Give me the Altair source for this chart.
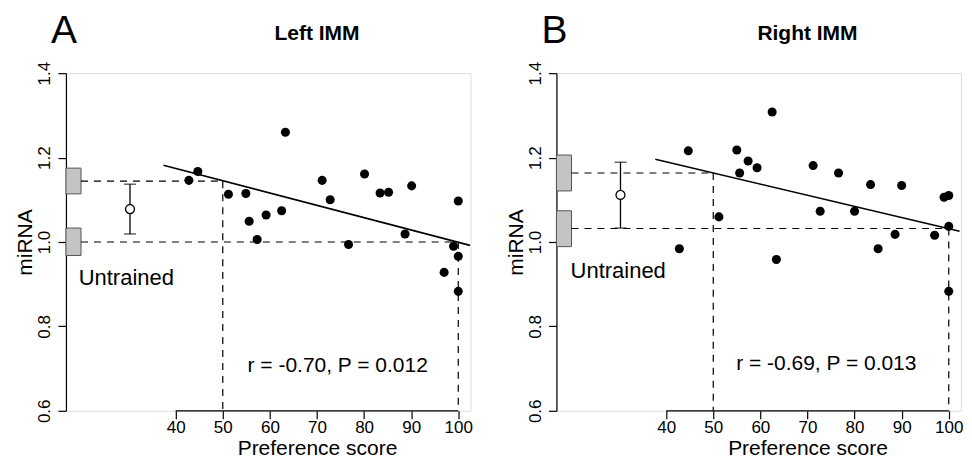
import altair as alt
import pandas as pd

# ---------------- data ----------------
left_score = [42.8, 44.7, 63.3, 51.2, 54.9, 55.6, 59.2, 62.5, 57.3, 71.1, 72.8,
              76.7, 80.1, 83.4, 85.2, 90.1, 88.7, 100.0, 99.0, 100.0, 97.0, 100.0]
left_mirna = [1.146, 1.167, 1.260, 1.113, 1.115, 1.049, 1.064, 1.074, 1.006, 1.146, 1.100,
              0.994, 1.161, 1.116, 1.118, 1.133, 1.019, 1.097, 0.990, 0.966, 0.928, 0.883]

right_score = [44.7, 62.5, 55.0, 57.4, 59.3, 55.6, 42.8, 51.2, 63.4, 71.2, 76.6,
               72.7, 80.0, 83.4, 90.0, 85.0, 88.6, 97.0, 99.0, 100.0, 100.0, 100.0]
right_mirna = [1.216, 1.308, 1.218, 1.192, 1.176, 1.1635, 0.984, 1.0595, 0.9585, 1.181, 1.1635,
               1.073, 1.073, 1.136, 1.134, 0.984, 1.018, 1.016, 1.106, 1.110, 1.037, 0.883]

# regression line end points
left_fit_score = [37.4, 102.5]
left_fit_mirna = [1.182, 0.992]
right_fit_score = [37.7, 102.3]
right_fit_mirna = [1.196, 1.0255]

# predicted miRNA at preference scores 50 and 100
ref_scores = [50, 100]
left_pred = [1.144, 1.000]
right_pred = [1.1635, 1.032]

# grey boxes on the y axis (low, high) for score 50 and score 100
left_box_low = [1.114, 0.968]
left_box_high = [1.175, 1.033]
right_box_low = [1.121, 0.989]
right_box_high = [1.206, 1.074]

# untrained mean and error bar
untrained_pos = 30.3
left_untrained = [1.078, 1.019, 1.137]   # mean, low, high
right_untrained = [1.1115, 1.033, 1.189]

x_ticks = [40, 50, 60, 70, 80, 90, 100]
y_ticks = [0.6, 0.8, 1.0, 1.2, 1.4]

# ---------------- layout ----------------
XMIN, XMAX = 16.7, 102.6
BOX_RIGHT = 19.9
W, H = 405, 338
FONT = "Liberation Sans"

xscale = alt.Scale(domain=[XMIN, XMAX], nice=False, zero=False)
yscale = alt.Scale(domain=[0.6, 1.4], nice=False, zero=False)

xaxis = alt.Axis(values=x_ticks, domain=False, grid=False, tickColor="black", tickSize=8,
                 tickWidth=1.2, labelFontSize=17, labelColor="black", labelPadding=1,
                 labelFont=FONT, titleFont=FONT, titleFontSize=21, titleFontWeight="normal",
                 titleColor="black", titleX=(70 - XMIN) * W / (XMAX - XMIN), titlePadding=2,
                 labelFlush=False, labelOverlap=False)
yaxis = alt.Axis(values=y_ticks, format=".1f", grid=False, domainColor="black", domainWidth=1.2,
                 tickColor="black", tickSize=8, tickWidth=1.2, labelAngle=270,
                 labelFontSize=17, labelColor="black", labelPadding=4, labelFont=FONT,
                 titleFont=FONT, titleFontSize=21, titleFontWeight="normal", titleColor="black",
                 titlePadding=0, labelFlush=False, labelOverlap=False)


def X(field):
    return alt.X(field, type="quantitative", scale=xscale, axis=xaxis, title="Preference score")


def Y(field):
    return alt.Y(field, type="quantitative", scale=yscale, axis=yaxis, title="miRNA")


def panel(scores, mirna, fit_s, fit_m, pred, box_lo, box_hi, untrained, letter, title,
          rtext, utext_xy, rtext_xy):
    pts = pd.DataFrame({"score": scores, "mirna": mirna})
    fit = pd.DataFrame({"score": fit_s, "mirna": fit_m})
    boxes = pd.DataFrame({"x0": [XMIN, XMIN], "x1": [BOX_RIGHT, BOX_RIGHT],
                          "y0": box_lo, "y1": box_hi})
    hdash = pd.DataFrame({"x0": [BOX_RIGHT, BOX_RIGHT], "x1": ref_scores, "y": pred})
    vdash = pd.DataFrame({"x": ref_scores, "y0": pred, "y1": [0.6, 0.6]})
    err = pd.DataFrame({"x": [untrained_pos], "m": [untrained[0]],
                        "lo": [untrained[1]], "hi": [untrained[2]]})
    xline = pd.DataFrame({"x0": [x_ticks[0]], "x1": [x_ticks[-1]], "y": [0.6]})
    one = pd.DataFrame({"k": [0]})

    axis_line = alt.Chart(xline).mark_rule(color="black", strokeWidth=1.2).encode(
        x=X("x0"), x2="x1", y=Y("y"))
    box = alt.Chart(boxes).mark_rect(fill="#c4c4c4", stroke="#555555", strokeWidth=1).encode(
        x=X("x0"), x2="x1", y=Y("y0"), y2="y1")
    hd = alt.Chart(hdash).mark_rule(color="black", strokeWidth=1.2, strokeDash=[7, 6]).encode(
        x=X("x0"), x2="x1", y=Y("y"))
    vd = alt.Chart(vdash).mark_rule(color="black", strokeWidth=1.2, strokeDash=[7, 6]).encode(
        x=X("x"), y=Y("y0"), y2="y1")
    ebar = alt.Chart(err).mark_rule(color="black", strokeWidth=1.3).encode(
        x=X("x"), y=Y("lo"), y2="hi")
    cap_lo = alt.Chart(err).mark_tick(color="black", orient="horizontal", size=12,
                                      thickness=1.3).encode(x=X("x"), y=Y("lo"))
    cap_hi = alt.Chart(err).mark_tick(color="black", orient="horizontal", size=12,
                                      thickness=1.3).encode(x=X("x"), y=Y("hi"))
    mean_pt = alt.Chart(err).mark_point(shape="circle", filled=False, fill="white",
                                        fillOpacity=1, color="black", size=80,
                                        strokeWidth=1.3, opacity=1).encode(x=X("x"), y=Y("m"))
    dots = alt.Chart(pts).mark_circle(color="black", size=82, opacity=1).encode(
        x=X("score"), y=Y("mirna"))
    line = alt.Chart(fit).mark_line(color="black", strokeWidth=1.6).encode(
        x=X("score"), y=Y("mirna"))
    utext = alt.Chart(one).mark_text(text="Untrained", font=FONT, fontSize=22, fontWeight="normal",
                                     align="left", baseline="alphabetic", fill="black").encode(
        x=alt.datum(utext_xy[0]), y=alt.datum(utext_xy[1]))
    rt = alt.Chart(one).mark_text(text=rtext, font=FONT, fontSize=21, fontWeight="normal",
                                  align="center", baseline="alphabetic", fill="black").encode(
        x=alt.datum(rtext_xy[0]), y=alt.datum(rtext_xy[1]))
    lt = alt.Chart(one).mark_text(text=letter, font=FONT, fontSize=39, fontWeight="normal",
                                  align="center", baseline="alphabetic", fill="black").encode(
        x=alt.value(-2), y=alt.value(-30))
    tt = alt.Chart(one).mark_text(text=title, font=FONT, fontSize=21, fontWeight="bold",
                                  align="center", baseline="alphabetic", fill="black").encode(
        x=alt.datum(70), y=alt.value(-33))

    return alt.layer(axis_line, box, hd, vd, ebar, cap_lo, cap_hi, mean_pt, line, dots,
                     utext, rt, lt, tt).properties(width=W, height=H)


left = panel(left_score, left_mirna, left_fit_score, left_fit_mirna, left_pred,
             left_box_low, left_box_high, left_untrained, "A", "Left IMM",
             "r = -0.70, P = 0.012", (19.4, 0.899), (74.4, 0.692))
right = panel(right_score, right_mirna, right_fit_score, right_fit_mirna, right_pred,
              right_box_low, right_box_high, right_untrained, "B", "Right IMM",
              "r = -0.69, P = 0.013", (19.7, 0.915), (74.0, 0.696))

chart = alt.hconcat(left, right, spacing=86, bounds="flush").properties(
    padding={"left": 6, "top": 3, "right": 0, "bottom": 0}).configure_view(
    stroke=None).configure(background="white")

chart.save("out.html", embed_options={"renderer": "svg", "actions": False})
